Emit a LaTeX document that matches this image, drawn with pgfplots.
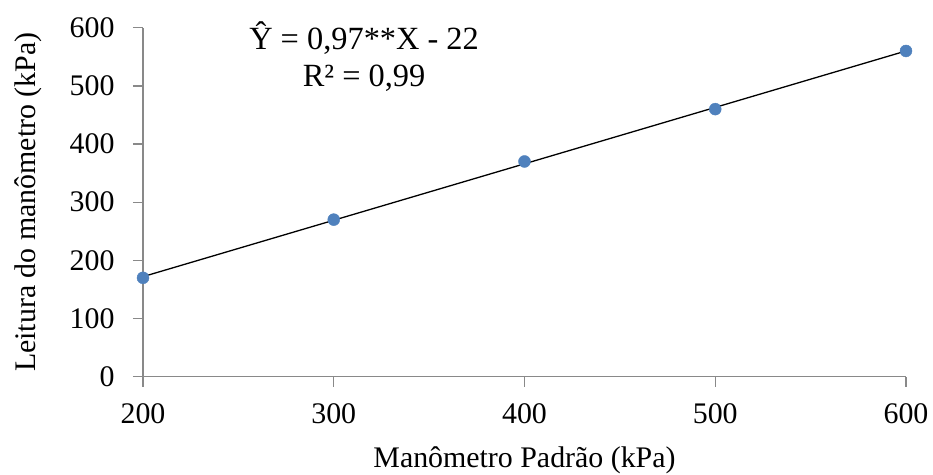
\documentclass[border=0pt]{standalone}
\usepackage{fontspec}
\setmainfont{Liberation Serif}
\usepackage{pgfplots}
\pgfplotsset{compat=1.18}
\definecolor{ptblue}{RGB}{79,129,189}
\definecolor{axgray}{RGB}{137,137,137}
\newcommand{\bigf}{\fontsize{30}{36}\selectfont}
\newcommand{\eqf}{\fontsize{32.5}{39}\selectfont}
\begin{document}
\begin{tikzpicture}
\path[use as bounding box] (-143bp,-98.3bp) rectangle (790bp,376.7bp);
\begin{axis}[
  at={(0,0)}, anchor=south west,
  scale only axis, width=763bp, height=349bp,
  xmin=200, xmax=600, ymin=0, ymax=600,
  xtick={200,300,400,500,600}, ytick={0,100,200,300,400,500,600},
  axis lines=left,
  axis line style={-, axgray, line width=1.3bp},
  tick style={axgray, line width=1.3bp},
  tick align=outside, major tick length=10bp,
  /pgf/number format/assume math mode=true,
  tick label style={font=\bigf, text=black},
  yticklabel style={xshift=-15bp},
  xticklabel style={yshift=-13bp},
  label style={font=\bigf},
  xlabel={Manômetro Padrão (kPa)},
  ylabel={Leitura do manômetro (kPa)},
  xlabel style={at={(axis description cs:0.5,-0.259)}, anchor=base},
  ylabel style={at={(axis description cs:-0.1415,0.5)}, anchor=base},
  clip=false,
]
\addplot[only marks, mark=*, mark size=6bp, mark options={fill=ptblue, draw=ptblue}] coordinates {
  (200,170) (300,270) (400,370) (500,460) (600,560)
};
\addplot[black, line width=1.3bp] coordinates {(200,172) (600,560)};
\node[anchor=base, font=\eqf, inner sep=0pt] at (axis cs:315.9,561.7) {Ŷ = 0,97**X - 22};
\node[anchor=base, font=\eqf, inner sep=0pt] at (axis cs:315.9,498.1) {R² = 0,99};
\end{axis}
\end{tikzpicture}
\end{document}
